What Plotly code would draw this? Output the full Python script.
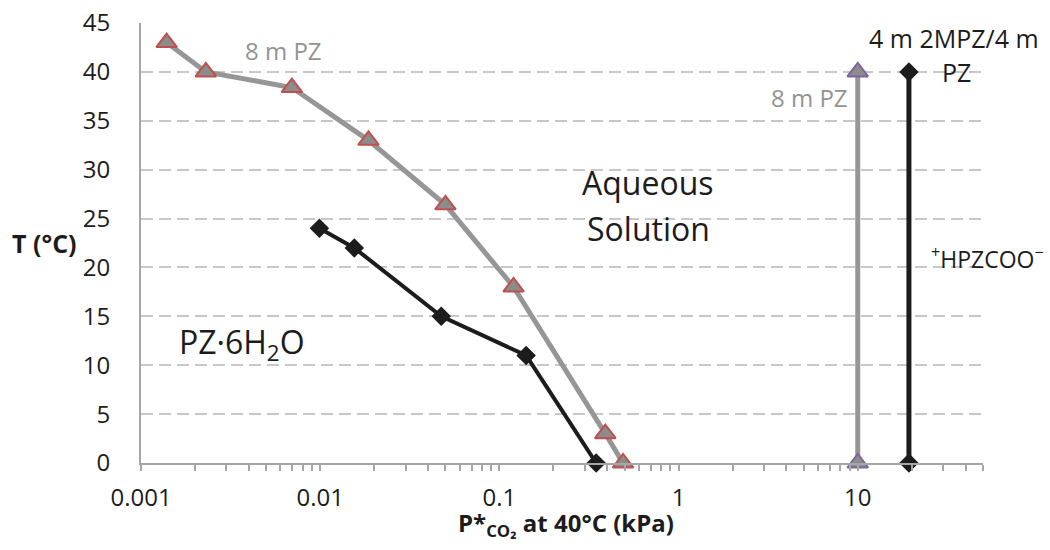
import numpy as np
import plotly.graph_objects as go

# 8 m PZ solid-liquid boundary (gray triangles)
pz8_p = [0.00139, 0.0023, 0.00695, 0.0186, 0.05, 0.12, 0.39, 0.49]
pz8_t = [43, 40, 38.4, 33, 26.4, 18, 3, 0]
# Black diamond boundary (PZ·6H2O)
blk_p = [0.0099, 0.0155, 0.0474, 0.141, 0.347]
blk_t = [24, 22, 15, 11, 0]
# Vertical boundaries (+HPZCOO-)
v8_p = [10, 10]
v8_t = [0, 40]
v4_p = [19.3, 19.3]
v4_t = [0, 40]

x_tickvals = [0.001, 0.01, 0.1, 1, 10]
x_ticktext = ["0.001", "0.01", "0.1", "1", "10"]
y_tickvals = [0, 5, 10, 15, 20, 25, 30, 35, 40, 45]

FONT = "Open Sans"
GRAY_LINE = "#969696"
GRAY_FILL = "#8c8c8c"
RED = "#c0504d"
PURPLE = "#8064a2"
BLACK = "#1c1c1c"
GRAY_TXT = "#939393"

fig = go.Figure()
fig.add_trace(go.Scatter(x=pz8_p, y=pz8_t, mode="lines+markers",
                         line=dict(color=GRAY_LINE, width=5),
                         marker=dict(symbol="triangle-up", size=18, color=GRAY_FILL,
                                     line=dict(color=RED, width=2)),
                         cliponaxis=False, showlegend=False))
fig.add_trace(go.Scatter(x=v8_p, y=v8_t, mode="lines+markers",
                         line=dict(color=GRAY_LINE, width=5),
                         marker=dict(symbol="triangle-up", size=18, color=GRAY_FILL,
                                     line=dict(color=PURPLE, width=2)),
                         cliponaxis=False, showlegend=False))
fig.add_trace(go.Scatter(x=blk_p, y=blk_t, mode="lines+markers",
                         line=dict(color=BLACK, width=4),
                         marker=dict(symbol="diamond", size=15, color=BLACK),
                         cliponaxis=False, showlegend=False))
fig.add_trace(go.Scatter(x=v4_p, y=v4_t, mode="lines+markers",
                         line=dict(color=BLACK, width=5),
                         marker=dict(symbol="diamond", size=15, color=BLACK),
                         cliponaxis=False, showlegend=False))

L, R, T, B = 141, 67, 23, 87
W, H = 1050, 550
pw, ph = W - L - R, H - T - B


def px(xp):
    return (xp - L) / pw


def py(yp):
    return (H - B - yp) / ph


ann = [
    dict(text="8 m PZ", x=px(283), y=py(50), size=24, color=GRAY_TXT),
    dict(text="8 m PZ", x=px(809), y=py(98), size=24, color=GRAY_TXT),
    dict(text="Aqueous", x=px(648), y=py(182), size=32, color=BLACK),
    dict(text="Solution", x=px(648), y=py(229), size=32, color=BLACK),
    dict(text="PZ·6H<sub>2</sub>O", x=px(242), y=py(344), size=32, color=BLACK),
    dict(text="4 m 2MPZ/4 m", x=px(954), y=py(38), size=25, color=BLACK),
    dict(text="PZ", x=px(956), y=py(72), size=25, color=BLACK),
    dict(text="<sup>+</sup>HPZCOO<sup>−</sup>", x=px(988), y=py(258), size=23, color=BLACK),
    dict(text="<b>T (°C)</b>", x=px(44), y=py(243), size=25, color=BLACK),
    dict(text="<b>P*<sub>CO₂</sub> at 40°C (kPa)</b>", x=px(566), y=py(524), size=24, color=BLACK),
]
for a in ann:
    fig.add_annotation(text=a["text"], x=a["x"], y=a["y"], xref="paper", yref="paper",
                       xanchor="center", yanchor="middle", showarrow=False,
                       font=dict(family=FONT, size=a["size"], color=a["color"]))

fig.update_layout(
    width=W, height=H,
    margin=dict(l=L, r=R, t=T, b=B, autoexpand=False),
    paper_bgcolor="white", plot_bgcolor="white",
    font=dict(family=FONT, size=24, color=BLACK),
    xaxis=dict(type="log", range=[-3, np.log10(50)], tickvals=x_tickvals, ticktext=x_ticktext,
               showgrid=False, showline=True, linecolor="#a6a6a6", linewidth=2,
               ticks="outside", ticklen=6, tickcolor="#a6a6a6", tickwidth=1.5,
               ticklabelstandoff=6, zeroline=False, automargin=False,
               minor=dict(ticks="outside", ticklen=6, tickcolor="#a6a6a6", tickwidth=1.5,
                          dtick="D1", showgrid=False),
               tickfont=dict(family=FONT, size=24, color=BLACK)),
    yaxis=dict(range=[0, 45], tickvals=y_tickvals, showgrid=True, gridcolor="#c8c8c8",
               gridwidth=1.5, griddash="12px,6px", showline=True, linecolor="#a6a6a6",
               linewidth=2, ticks="", ticklabelstandoff=24, zeroline=False, automargin=False,
               tickfont=dict(family=FONT, size=24, color=BLACK)),
)

fig.write_html("out.html", config={"displayModeBar": False},
               post_script="document.body.style.margin='0';document.body.style.overflow='hidden';")
